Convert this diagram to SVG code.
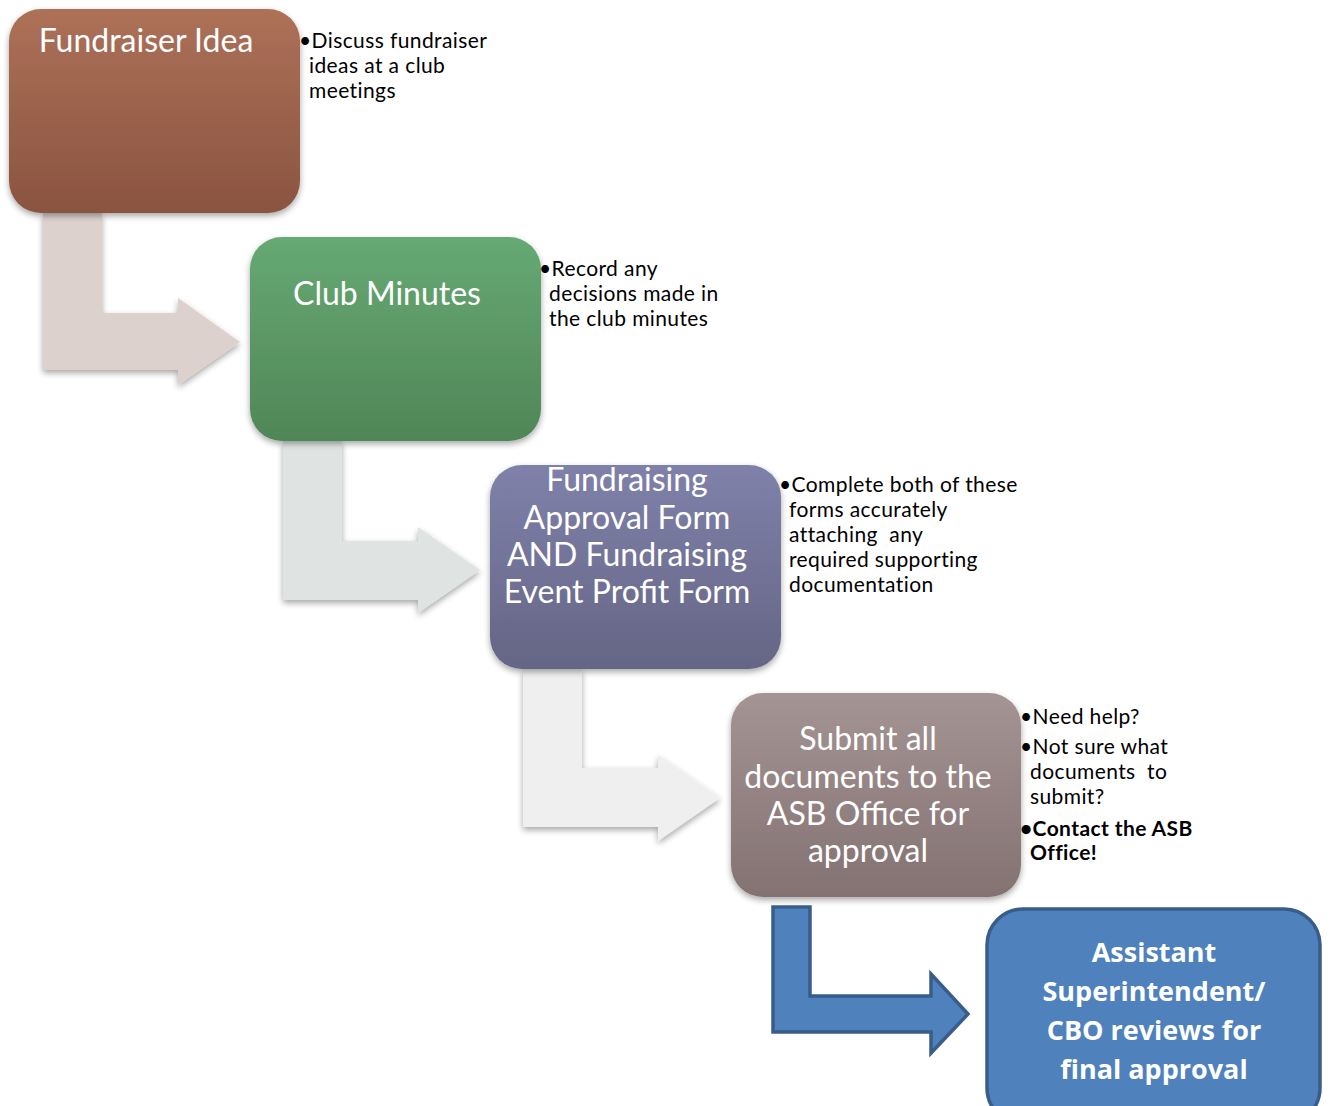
<svg xmlns="http://www.w3.org/2000/svg" width="1331" height="1106" viewBox="0 0 1331 1106">
<defs>
<linearGradient id="g1" x1="0" y1="0" x2="0" y2="1"><stop offset="0" stop-color="#ad7158"/><stop offset="1" stop-color="#8a5440"/></linearGradient>
<linearGradient id="g2" x1="0" y1="0" x2="0" y2="1"><stop offset="0" stop-color="#66a974"/><stop offset="1" stop-color="#508657"/></linearGradient>
<linearGradient id="g3" x1="0" y1="0" x2="0" y2="1"><stop offset="0" stop-color="#7f81aa"/><stop offset="1" stop-color="#656585"/></linearGradient>
<linearGradient id="g4" x1="0" y1="0" x2="0" y2="1"><stop offset="0" stop-color="#a49493"/><stop offset="1" stop-color="#837271"/></linearGradient>
<filter id="sh" x="-10%" y="-10%" width="120%" height="125%"><feDropShadow dx="0" dy="3" stdDeviation="3" flood-color="#000" flood-opacity="0.35"/></filter>
</defs>
<style>
.bt{font-family:Lato,"Open Sans","Liberation Sans",sans-serif;fill:#fff;text-anchor:middle;font-size:32px}
.bb{font-family:"Open Sans",Lato,"Liberation Sans",sans-serif;fill:#fff;text-anchor:middle;font-size:27px;font-weight:bold}
.st{font-family:Lato,"Open Sans","Liberation Sans",sans-serif;fill:#000;font-size:21px;letter-spacing:0.4px}
.arr{filter:url(#sh)}
</style>
<g id="connectors">
<path class="arr" fill="#dcd1cd" d="M43,213 L102,213 L102,313 L178,313 L178,298 L240,342 L178,385 L178,370 L43,370 Z"/>
<path class="arr" fill="#dfe4e3" d="M283,441 L342,441 L342,541 L418,541 L418,527 L480,570 L418,613 L418,600 L283,600 Z"/>
<path class="arr" fill="#efefef" d="M523,669 L582,669 L582,768 L658,768 L658,755 L720,798 L658,841 L658,827 L523,827 Z"/>
<path fill="#4f81bd" stroke="#385d8a" stroke-width="3.5" d="M773,907 L810,907 L810,996 L931,996 L931,974 L968,1014 L931,1053 L931,1032 L773,1032 Z"/>
</g>
<g id="node1">
<rect x="9" y="9" width="291" height="204" rx="32" fill="url(#g1)" filter="url(#sh)"/>
<text class="bt" x="146" y="52">Fundraiser Idea</text>
</g>
<g id="note1">
<text class="st" x="299" y="48">•Discuss fundraiser</text>
<text class="st" x="309" y="73">ideas at a club</text>
<text class="st" x="309" y="98">meetings</text>
</g>
<g id="node2">
<rect x="250" y="237" width="291" height="204" rx="32" fill="url(#g2)" filter="url(#sh)"/>
<text class="bt" x="387" y="305">Club Minutes</text>
</g>
<g id="note2">
<text class="st" x="539" y="276">•Record any</text>
<text class="st" x="549" y="301">decisions made in</text>
<text class="st" x="549" y="326">the club minutes</text>
</g>
<g id="node3">
<rect x="490" y="465" width="291" height="204" rx="32" fill="url(#g3)" filter="url(#sh)"/>
<text class="bt" x="627" y="491">Fundraising</text>
<text class="bt" x="627" y="529">Approval Form</text>
<text class="bt" x="627" y="566">AND Fundraising</text>
<text class="bt" x="627" y="603">Event Profit Form</text>
</g>
<g id="note3">
<text class="st" x="779" y="492">•Complete both of these</text>
<text class="st" x="789" y="517">forms accurately</text>
<text class="st" x="789" y="542" xml:space="preserve">attaching  any</text>
<text class="st" x="789" y="567">required supporting</text>
<text class="st" x="789" y="592">documentation</text>
</g>
<g id="node4">
<rect x="731" y="693" width="290" height="204" rx="32" fill="url(#g4)" filter="url(#sh)"/>
<text class="bt" x="868" y="750">Submit all</text>
<text class="bt" x="868" y="788">documents to the</text>
<text class="bt" x="868" y="825">ASB Office for</text>
<text class="bt" x="868" y="862">approval</text>
</g>
<g id="note4">
<text class="st" x="1020" y="724">•Need help?</text>
<text class="st" x="1020" y="754">•Not sure what</text>
<text class="st" x="1030" y="779" xml:space="preserve">documents  to</text>
<text class="st" x="1030" y="804">submit?</text>
<text class="st" x="1020" y="836" font-weight="bold">•Contact the ASB</text>
<text class="st" x="1030" y="860" font-weight="bold">Office!</text>
</g>
<g id="node5">
<rect x="987" y="909" width="333" height="215" rx="36" fill="#4f81bd" stroke="#385d8a" stroke-width="3.5"/>
<text class="bb" x="1154" y="962">Assistant</text>
<text class="bb" x="1154" y="1001">Superintendent/</text>
<text class="bb" x="1154" y="1040">CBO reviews for</text>
<text class="bb" x="1154" y="1079">final approval</text>
</g>
</svg>
